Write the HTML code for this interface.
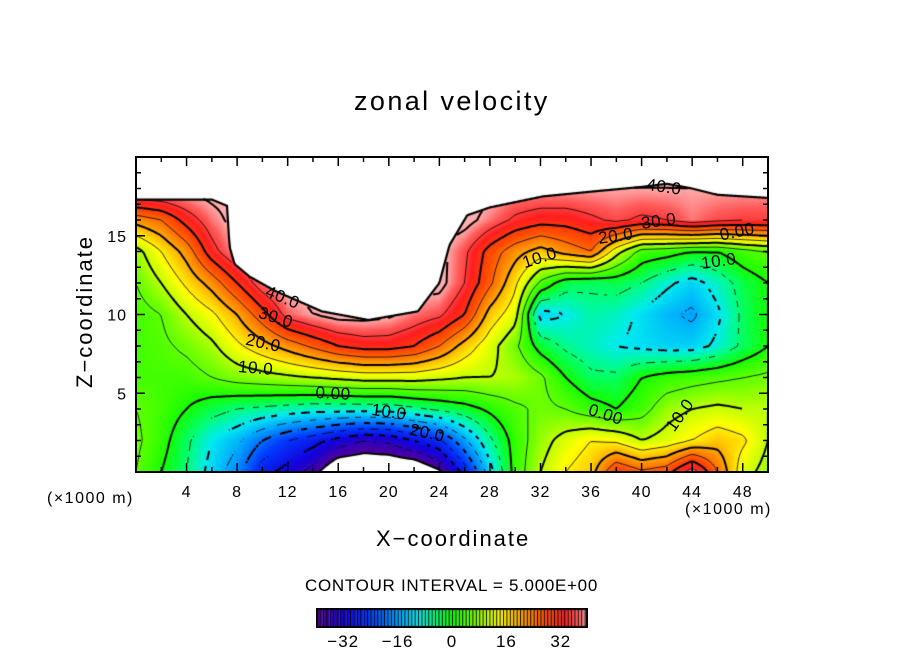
<!DOCTYPE html>
<html><head><meta charset="utf-8"><style>
body{margin:0;background:#fff;width:904px;height:654px;overflow:hidden;font-family:"Liberation Sans",sans-serif}
#wrap{position:relative;width:904px;height:654px}
.t{position:absolute;color:#000;white-space:nowrap}
canvas{position:absolute}
.cl{position:absolute;font-size:17px;white-space:nowrap;transform-origin:left top;letter-spacing:0.5px}
</style></head><body>
<div id="wrap">
<div class="t" style="left:354px;top:86px;font-size:27px;letter-spacing:2.4px">zonal velocity</div>
<canvas id="plot" width="632" height="315" style="left:136px;top:157px"></canvas>
<svg id="ax" width="904" height="654" style="position:absolute;left:0;top:0"></svg>
<div class="t" style="left:10px;top:300px;font-size:22px;transform:rotate(-90deg);transform-origin:center;width:150px;text-align:center;letter-spacing:2px">Z−coordinate</div>
<div class="t" style="left:376px;top:526px;font-size:22px;letter-spacing:2px">X−coordinate</div>
<div class="t" style="left:47px;top:490px;font-size:16px;letter-spacing:1.5px">(×1000 m)</div>
<div class="t" style="left:685px;top:501px;font-size:16px;letter-spacing:1.5px">(×1000 m)</div>
<div class="t" style="left:305px;top:576px;font-size:17px;letter-spacing:0.7px">CONTOUR INTERVAL = 5.000E+00</div>
<canvas id="cbar" width="272" height="20" style="left:316px;top:608px"></canvas>
<div id="labels"></div>
</div>
<script>
const xGrid=[0,2,4,6,8,10,12,14,16,18,20,22,24,26,28,30,32,34,36,38,40,42,44,46,48,50];
const zGrid=[0,2,4,6,8,10,12,14,16,18,20];
const u_z0 =[5,0,-5,-12,-18,-28,-32,-37,-45,-45,-45,-45,-40,-28,-12,2,10,15,18,30,26,28,38,25,12,8];
const u_z2 =[6,2,-4,-10,-14,-20,-25,-28,-32,-35,-34,-30,-26,-16,-6,2,8,12,15,14,10,12,15,18,16,10];
const u_z4 =[5,3,0,-3,-5,-6,-7,-8,-8,-8,-8,-6,-4,-2,1,4,6,5,2,0,3,8,10,11,10,10];
const u_z6 =[3,3,3,5,7,8,9,10,11,12,12,12,11,10,10,9,6,0,-4,-4,0,2,3,4,5,6];
const u_z8 =[3,4,6,9,14,18,22,26,30,32,32,30,25,18,12,6,-2,-6,-8,-10,-11,-12,-12,-9,-4,0];
const u_z10=[3,5,10,14,20,28,37,40,42,42,41,38,36,30,18,12,-12,-10,-7,-8,-11,-14,-16,-11,-4,0];
const u_z12=[5,10,16,22,30,38,42,42,42,42,42,42,42,35,26,16,4,-3,-4,-3,-5,-9,-12,-8,-3,0];
const u_z14=[8,15,22,33,40,42,42,42,42,42,42,42,42,36,28,22,18,22,25,12,3,2,0,0,3,5];
const u_z16=[22,25,32,38,42,42,42,42,42,42,42,42,42,42,38,34,32,32,34,36,34,35,38,36,35,35];
const u_z18=[42,42,42,42,42,42,42,42,42,42,42,42,42,42,42,40,40,40,40,40,40,40,40,40,40,40];
const u_z20=[42,42,42,42,42,42,42,42,42,42,42,42,42,42,42,42,42,42,42,42,42,42,42,42,42,42];
const rows=[u_z0,u_z2,u_z4,u_z6,u_z8,u_z10,u_z12,u_z14,u_z16,u_z18,u_z20];
const topX=[0,6,7.2,7.4,7.8,9,11,14.7,18.4,22.3,24,24.8,26.2,28,32.2,36,40,42,44,46,50];
const topZ=[17.3,17.3,16.9,14.3,13.2,12.4,11.5,10.2,9.65,10.2,12,14.4,16.3,16.8,17.5,17.8,18.1,18.3,18,17.6,17.4];
const xTicks=[4,8,12,16,20,24,28,32,36,40,44,48];
const zTicks=[5,10,15];
const cbTicks=[-32,-16,0,16,32];
const holeLevel=-39;
const levels=[-35,-30,-25,-20,-15,-10,-5,0,5,10,15,20,25,30,35,40];

const X0=136,X1=768,Y0=157,Y1=472,XMAX=50,ZMAX=20;
const xs=v=>X0+v/XMAX*(X1-X0), zs=v=>Y1-v/ZMAX*(Y1-Y0);
function interp1(xa,ya,x){if(x<=xa[0])return ya[0];for(let i=1;i<xa.length;i++){if(x<=xa[i]){const t=(x-xa[i-1])/(xa[i]-xa[i-1]);return ya[i-1]+t*(ya[i]-ya[i-1]);}}return ya[ya.length-1];}
function field(x,z){
 let i=Math.min(xGrid.length-2,Math.max(0,Math.floor(x/2)));let j=Math.min(zGrid.length-2,Math.max(0,Math.floor(z/2)));
 const tx=(x-xGrid[i])/(xGrid[i+1]-xGrid[i]),tz=(z-zGrid[j])/(zGrid[j+1]-zGrid[j]);
 const a=rows[j][i],b=rows[j][i+1],c=rows[j+1][i],d=rows[j+1][i+1];
 return a*(1-tx)*(1-tz)+b*tx*(1-tz)+c*(1-tx)*tz+d*tx*tz;}
function masked(x,z,v){return z>interp1(topX,topZ,x)||v<holeLevel;}
const stops=[[-40,90,0,140],[-32,20,0,220],[-24,0,60,255],[-16,0,160,255],[-10,0,235,240],[-5,0,255,120],[0,20,255,0],[6,110,255,0],[10,190,255,0],[14,255,255,0],[20,255,170,0],[27,255,80,0],[33,255,30,30],[37,255,90,90],[40,255,170,170],[45,255,190,190]];
function cmap(v){if(v<=stops[0][0])return stops[0].slice(1);for(let i=1;i<stops.length;i++){if(v<=stops[i][0]){const t=(v-stops[i-1][0])/(stops[i][0]-stops[i-1][0]);return [0,1,2].map(k=>stops[i-1][k+1]+t*(stops[i][k+1]-stops[i-1][k+1]));}}return stops[stops.length-1].slice(1);}

const cv=document.getElementById('plot'),ctx=cv.getContext('2d');
const W=cv.width,H=cv.height,img=ctx.createImageData(W,H);
for(let py=0;py<H;py++)for(let px=0;px<W;px++){
 const x=(px+0.5)/W*XMAX,z=(H-py-0.5)/H*ZMAX,v=field(x,z);const o=(py*W+px)*4;
 let c=[255,255,255];if(!masked(x,z,v))c=cmap(v);
 img.data[o]=c[0];img.data[o+1]=c[1];img.data[o+2]=c[2];img.data[o+3]=255;}
ctx.putImageData(img,0,0);
const S=3,nx=Math.ceil(W/S)+1,nz=Math.ceil(H/S)+1,G=[];
for(let j=0;j<nz;j++){G[j]=[];for(let i=0;i<nx;i++){const x=i*S/W*XMAX,z=(H-j*S)/H*ZMAX;const v=field(x,z);G[j][i]=(z>interp1(topX,topZ,x)+0.05)?NaN:v;}}
function drawLevel(L,lw,dash){
 ctx.strokeStyle='#000';ctx.lineWidth=lw;ctx.beginPath();
 for(let j=0;j<nz-1;j++)for(let i=0;i<nx-1;i++){
  const a=G[j][i],b=G[j][i+1],c=G[j+1][i+1],d=G[j+1][i];
  if(isNaN(a)||isNaN(b)||isNaN(c)||isNaN(d))continue;
  if(L!==holeLevel&&(a<holeLevel||b<holeLevel||c<holeLevel||d<holeLevel))continue;
  const P=[];const x0=i*S,y0=j*S;
  if((a-L)*(b-L)<0)P.push([x0+S*(L-a)/(b-a),y0]);
  if((b-L)*(c-L)<0)P.push([x0+S,y0+S*(L-b)/(c-b)]);
  if((d-L)*(c-L)<0)P.push([x0+S*(L-d)/(c-d),y0+S]);
  if((a-L)*(d-L)<0)P.push([x0,y0+S*(L-a)/(d-a)]);
  if(dash&&Math.floor((x0+y0)/7)%2)continue;
  for(let k=0;k+1<P.length;k+=2){ctx.moveTo(P[k][0],P[k][1]);ctx.lineTo(P[k+1][0],P[k+1][1]);}
 }ctx.stroke();}
levels.forEach(L=>drawLevel(L,(L%10===0)?2:0.8,L<0));
drawLevel(holeLevel,2,false);
ctx.lineWidth=2.2;ctx.beginPath();
for(let px=0;px<=W;px++){const x=px/W*XMAX;const y=H-interp1(topX,topZ,x)/ZMAX*H;px?ctx.lineTo(px,y):ctx.moveTo(px,y);}ctx.stroke();

const svg=document.getElementById('ax'),NS='http://www.w3.org/2000/svg';
function mk(t,at){const e=document.createElementNS(NS,t);for(const k in at)e.setAttribute(k,at[k]);svg.appendChild(e);return e;}
const fr=mk('rect',{x:X0,y:Y0,width:X1-X0,height:Y1-Y0,fill:'none',stroke:'#000','stroke-width':2});


for(let v=2;v<50;v+=2){const len=(v%4===0)?9:5;
 const t1=mk('line',{x1:xs(v),x2:xs(v),y1:Y1,y2:Y1-len,stroke:'#000','stroke-width':1.5});
 
 
 const t2=mk('line',{x1:xs(v),x2:xs(v),y1:Y0,y2:Y0+len,stroke:'#000','stroke-width':1.5});
 
 }
for(let v=1;v<20;v++){const len=(v%5===0)?9:5;
 const t1=mk('line',{x1:X0,x2:X0+len,y1:zs(v),y2:zs(v),stroke:'#000','stroke-width':1.5});
 
 
 const t2=mk('line',{x1:X1,x2:X1-len,y1:zs(v),y2:zs(v),stroke:'#000','stroke-width':1.5});
 
 }
xTicks.forEach(v=>{const t=mk('text',{x:xs(v),y:497,'text-anchor':'middle','font-size':16,'font-family':'Liberation Sans','letter-spacing':1});t.textContent=v;
 
 });
zTicks.forEach(v=>{const t=mk('text',{x:127,y:zs(v)+6,'text-anchor':'end','font-size':16,'font-family':'Liberation Sans','letter-spacing':1});t.textContent=v;
 
 });
const cb=document.getElementById('cbar'),cc=cb.getContext('2d');const CW=272,N=80;
for(let k=0;k<N;k++){const v=-40+(k+0.5)*80/N;const c=cmap(v);cc.fillStyle=`rgb(${c[0]|0},${c[1]|0},${c[2]|0})`;const x0=k*CW/N;cc.fillRect(x0,0,CW/N,20);cc.fillStyle='#000';cc.fillRect(x0,0,1,20);}
cc.strokeStyle='#000';cc.lineWidth=2;cc.strokeRect(1,1,CW-2,18);
cbTicks.forEach(v=>{const t=mk('text',{x:316+(v+40)/80*272,y:647,'text-anchor':'middle','font-size':17,'font-family':'Liberation Sans','letter-spacing':1});t.textContent=(v<0?'−'+(-v):v);
 
 });
const labs=[["40.0",270,282,22],["30.0",262,303,18],["20.0",248,330,12],["10.0",239,357,5],["0.00",316,383,3],["10.0",373,400,8],["20.0",412,420,12],["40.0",648,175,8],["30.0",640,214,-8],["20.0",597,229,-8],["10.0",520,254,-18],["0.00",718,226,-12],["10.0",700,254,-8],["0.00",592,400,18],["10.0",662,424,-55]];
const ld=document.getElementById('labels');
labs.forEach(l=>{const d=document.createElement('div');d.className='cl';d.textContent=l[0];d.style.left=l[1]+'px';d.style.top=l[2]+'px';d.style.transform='rotate('+l[3]+'deg)';
 
 
 ld.appendChild(d);});
</script>
</body></html>
